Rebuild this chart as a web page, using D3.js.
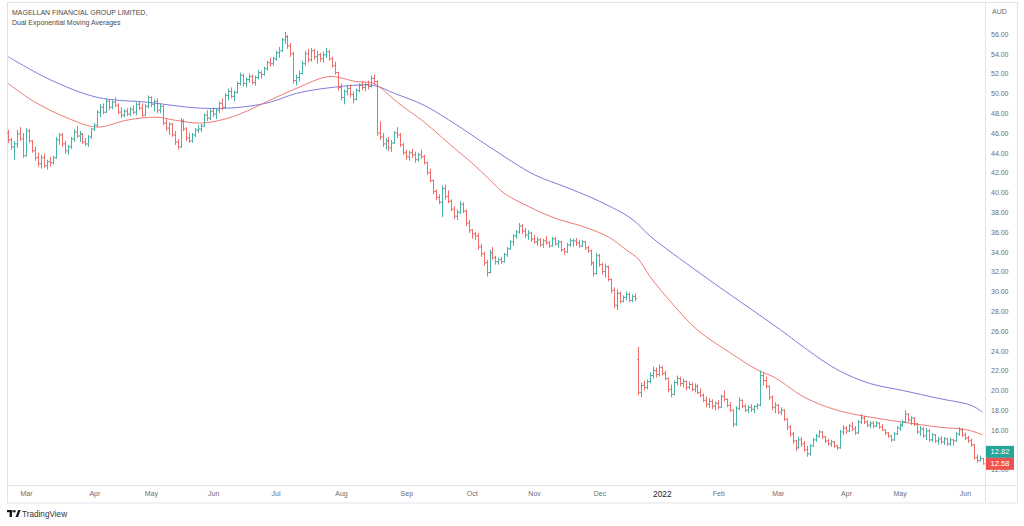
<!DOCTYPE html>
<html><head><meta charset="utf-8">
<script src="https://cdn.jsdelivr.net/npm/d3@7"></script>
<style>
body{margin:0;background:#fff}
svg{display:block}
text{font-family:"Liberation Sans",Arial,sans-serif}
</style>
</head><body>
<svg id="c" width="1024" height="526"></svg>
<script>
// ---------- data ----------
const title = "MAGELLAN FINANCIAL GROUP LIMITED,";
const subtitle = "Dual Exponential Moving Averages";
const currency = "AUD";
const startDate = "2021-02-19";
const holidays = ["2021-04-02","2021-04-05","2021-04-26","2021-06-14","2021-12-27","2021-12-28",
  "2022-01-03","2022-01-26","2022-04-15","2022-04-18","2022-04-25"];
const yTicks = [12,14,16,18,20,22,24,26,28,30,32,34,36,38,40,42,44,46,48,50,52,54,56];
const priceTags = [12.82, 12.58];

// daily bars [open, high, low, close]
const barsFeb21 = [[46.0,46.3,45.0,45.3],[45.3,45.5,44.3,44.6],[44.6,45.2,43.3,44.9],[44.9,46.3,44.5,45.9],[45.9,46.6,45.2,45.4],[45.4,46.0,43.5,43.7]];
const barsMar21 = [[43.7,46.5,43.6,46.2],[46.2,46.4,45.0,45.2],[45.2,45.3,44.0,44.2],[44.2,44.6,43.2,43.5],[43.5,44.0,42.6,42.9],[42.9,43.8,42.4,43.5],[43.5,43.9,42.5,42.7],[42.7,43.3,42.3,43.1],[43.1,43.6,42.6,43.0],[43.0,43.7,42.8,43.5],[43.5,45.6,43.4,45.3],[45.3,46.0,44.8,45.8],[45.8,46.0,44.6,44.9],[44.9,45.2,43.9,44.2],[44.2,44.8,43.8,44.6],[44.6,45.6,44.4,45.4],[45.4,46.4,45.1,46.1],[46.1,46.7,45.5,45.7],[45.7,46.2,45.1,45.9],[45.9,46.0,44.9,45.1],[45.1,45.5,44.7,44.9],[44.9,45.8,44.6,45.6],[45.6,46.5,45.4,46.4]];
const barsApr21 = [[46.4,47.0,46.2,46.8],[46.8,48.3,46.6,48.1],[48.1,48.9,47.6,48.6],[48.6,49.0,47.9,48.1],[48.1,49.5,48.0,49.2],[49.2,49.4,48.3,48.6],[48.6,49.3,48.4,49.1],[49.1,49.6,48.6,48.8],[48.8,49.0,47.9,48.1],[48.1,48.6,47.5,47.8],[47.8,48.4,47.6,48.2],[48.2,48.5,47.7,47.9],[47.9,48.6,47.7,48.4],[48.4,48.8,47.9,48.1],[48.1,49.1,47.8,48.9],[48.9,49.2,48.3,48.5],[48.5,49.0,47.6,47.8],[47.8,48.9,47.7,48.7],[48.7,49.8,48.5,49.6]];
const barsMay21 = [[49.6,49.7,48.6,48.9],[48.9,49.4,48.2,49.2],[49.2,49.5,48.0,48.3],[48.3,49.0,48.0,48.7],[48.7,48.8,46.8,47.0],[47.0,47.4,46.2,46.5],[46.5,47.1,45.8,46.9],[46.9,47.0,45.6,45.8],[45.8,46.2,44.8,45.1],[45.1,45.4,44.3,44.6],[44.6,47.5,44.5,47.2],[47.2,47.4,46.2,46.4],[46.4,46.6,45.2,45.5],[45.5,46.0,45.0,45.2],[45.2,46.0,45.0,45.8],[45.8,46.5,45.6,46.3],[46.3,46.8,46.0,46.4],[46.4,46.9,46.1,46.7],[46.7,48.0,46.6,47.8],[47.8,48.3,47.2,47.5],[47.5,48.4,47.3,48.2]];
const barsJun21 = [[48.2,48.6,47.6,47.9],[47.9,48.5,47.4,48.3],[48.3,49.2,48.0,49.0],[49.0,49.5,48.3,48.6],[48.6,50.0,48.5,49.8],[49.8,50.5,49.3,50.2],[50.2,50.6,49.5,49.7],[49.7,50.3,49.2,50.1],[50.1,51.2,50.0,51.0],[51.0,52.1,50.8,51.8],[51.8,52.0,50.7,51.0],[51.0,51.6,50.6,51.4],[51.4,52.0,51.1,51.7],[51.7,51.9,50.9,51.1],[51.1,51.8,50.8,51.6],[51.6,52.4,51.4,52.1],[52.1,52.3,51.5,51.9],[51.9,52.7,51.8,52.5],[52.5,53.3,52.3,53.1],[53.1,53.6,52.7,53.0],[53.0,53.7,52.8,53.5]];
const barsJul21 = [[53.5,54.3,53.3,54.1],[54.1,54.7,53.6,54.3],[54.3,55.6,54.2,55.4],[55.4,56.2,55.0,55.7],[55.7,55.9,54.5,54.8],[54.8,55.1,53.7,54.0],[54.0,54.2,51.0,51.3],[51.3,51.9,50.8,51.6],[51.6,52.3,51.2,52.0],[52.0,53.3,51.9,53.0],[53.0,54.3,52.8,54.0],[54.0,54.5,53.1,53.4],[53.4,54.6,53.2,54.3],[54.3,54.5,53.4,53.7],[53.7,54.3,53.0,53.9],[53.9,54.1,53.2,53.5],[53.5,54.2,53.1,53.9],[53.9,54.6,53.6,54.2],[54.2,54.4,53.3,53.5],[53.5,53.7,52.6,52.8],[52.8,53.2,51.9,52.1],[52.1,52.2,50.3,50.6]];
const barsAug21 = [[50.6,51.0,49.3,49.6],[49.6,50.4,48.9,50.2],[50.2,50.8,49.8,50.5],[50.5,50.9,49.6,49.9],[49.9,50.2,49.0,49.4],[49.4,50.5,49.3,50.3],[50.3,51.0,50.1,50.8],[50.8,51.2,50.3,50.6],[50.6,51.1,50.2,50.9],[50.9,51.3,50.4,50.7],[50.7,51.8,50.6,51.5],[51.5,51.9,50.9,51.2],[51.2,51.3,45.7,46.0],[46.0,47.2,45.3,45.6],[45.6,46.0,44.6,44.9],[44.9,45.5,44.3,45.2],[45.2,45.6,44.2,44.5],[44.5,45.3,44.1,45.0],[45.0,46.2,44.9,46.0],[46.0,46.6,45.5,45.8],[45.8,46.0,44.6,44.8],[44.8,45.0,43.8,44.0]];
const barsSep21 = [[44.0,44.3,43.3,43.6],[43.6,44.2,43.2,44.0],[44.0,44.4,43.5,43.8],[43.8,44.1,43.0,43.3],[43.3,44.0,43.1,43.8],[43.8,44.3,43.4,43.6],[43.6,43.8,42.8,43.0],[43.0,43.1,41.8,42.0],[42.0,42.4,41.0,41.2],[41.2,41.3,39.8,40.1],[40.1,40.3,39.2,39.5],[39.5,39.8,38.8,39.0],[39.0,40.7,37.5,40.4],[40.4,40.8,39.3,39.6],[39.6,40.2,38.9,39.1],[39.1,39.3,38.1,38.3],[38.3,38.6,37.3,37.6],[37.6,38.3,37.2,38.0],[38.0,39.1,37.8,38.8],[38.8,39.0,37.9,38.1],[38.1,38.3,36.6,36.9],[36.9,37.2,35.9,36.2]];
const barsOct21 = [[36.2,36.3,35.3,35.8],[35.8,36.0,35.2,35.6],[35.6,35.9,34.2,34.5],[34.5,34.8,33.5,33.8],[33.8,34.0,32.6,32.9],[32.9,33.2,31.5,31.9],[31.9,34.2,31.8,33.9],[33.9,34.5,33.2,33.4],[33.4,33.6,32.7,33.0],[33.0,33.4,32.7,33.2],[33.2,33.5,32.8,33.0],[33.0,33.9,32.9,33.7],[33.7,34.5,33.5,34.3],[34.3,35.2,34.2,35.0],[35.0,35.8,34.6,35.6],[35.6,36.2,35.3,36.0],[36.0,36.9,35.8,36.6],[36.6,36.8,35.8,36.1],[36.1,36.4,35.4,35.7],[35.7,36.2,35.2,35.9],[35.9,36.0,35.0,35.3]];
const barsNov21 = [[35.3,35.7,34.8,35.0],[35.0,35.5,34.6,35.2],[35.2,35.4,34.5,34.7],[34.7,35.3,34.4,35.1],[35.1,35.6,34.7,34.9],[34.9,35.1,34.4,34.6],[34.6,35.5,34.5,35.3],[35.3,35.5,34.6,34.8],[34.8,35.2,34.4,35.0],[35.0,35.1,34.0,34.2],[34.2,34.4,33.7,34.0],[34.0,34.9,33.9,34.7],[34.7,35.4,34.5,35.1],[35.1,35.3,34.5,35.1],[35.1,35.4,34.6,34.9],[34.9,35.2,34.4,34.6],[34.6,35.2,34.5,35.0],[35.0,35.1,34.2,34.4],[34.4,34.6,33.9,34.1],[34.1,34.2,32.6,32.9],[32.9,33.0,31.5,31.8]];
const barsDec21 = [[31.8,33.9,31.7,33.6],[33.6,33.8,32.5,32.7],[32.7,32.9,31.7,32.0],[32.0,32.8,31.4,32.5],[32.5,32.6,31.0,31.2],[31.2,31.3,29.8,30.1],[30.1,30.4,28.3,28.6],[28.6,30.2,28.1,29.8],[29.8,30.0,28.8,29.0],[29.0,29.6,28.9,29.4],[29.4,30.0,29.1,29.7],[29.7,29.9,28.9,29.1],[29.1,29.7,28.9,29.5],[29.5,29.8,29.0,29.3],[23.1,24.4,19.5,19.8],[19.8,20.8,19.3,20.5],[20.5,21.0,20.0,20.3],[20.3,21.1,20.1,20.9],[20.9,21.8,20.7,21.5],[21.5,22.4,21.2,22.0],[22.0,22.3,21.3,21.6]];
const barsJan22 = [[21.6,22.6,21.4,22.3],[22.3,22.5,21.5,21.7],[21.7,22.0,21.0,21.2],[21.2,21.3,19.8,20.1],[20.1,20.6,19.3,19.6],[19.6,21.0,19.5,20.8],[20.8,21.5,20.5,21.2],[21.2,21.4,20.4,20.7],[20.7,21.2,20.3,20.9],[20.9,21.0,20.0,20.3],[20.3,20.9,20.1,20.6],[20.6,20.8,19.9,20.1],[20.1,20.7,19.8,20.4],[20.4,20.6,19.6,19.8],[19.8,20.2,19.3,19.5],[19.5,19.7,18.8,19.0],[19.0,19.4,18.3,18.6],[18.6,19.2,18.2,18.9],[18.9,19.1,18.1,18.4]];
const barsFeb22 = [[18.4,18.9,18.0,18.7],[18.7,19.0,18.1,18.3],[18.3,19.6,18.2,19.4],[19.4,20.0,18.9,19.1],[19.1,19.2,18.3,18.5],[18.5,18.8,17.8,18.0],[18.0,18.1,16.3,16.6],[16.6,18.4,16.4,18.2],[18.2,19.3,18.0,19.0],[19.0,19.1,18.2,18.4],[18.4,18.6,17.8,18.0],[18.0,18.5,17.7,18.3],[18.3,18.6,17.8,18.1],[18.1,18.5,17.7,18.4],[18.4,18.7,18.1,18.5],[18.5,22.0,18.4,21.5],[21.5,21.8,20.5,21.0],[21.0,21.4,20.2,20.4],[20.4,20.5,19.0,19.3],[19.3,19.5,18.0,18.3],[18.3,18.8,17.7,18.5]];
const barsMar22 = [[18.5,18.6,17.6,17.8],[17.8,18.3,17.5,18.0],[18.0,18.1,16.9,17.1],[17.1,17.2,16.0,16.3],[16.3,16.5,15.3,15.6],[15.6,15.8,14.6,14.9],[14.9,15.0,13.9,14.2],[14.2,15.3,14.1,15.0],[15.0,15.3,14.3,14.6],[14.6,14.9,13.8,14.0],[14.0,14.4,13.3,13.6],[13.6,14.6,13.4,14.4],[14.4,15.2,14.3,15.0],[15.0,15.6,14.8,15.4],[15.4,16.0,15.2,15.8],[15.8,15.9,15.1,15.3],[15.3,15.4,14.7,14.9],[14.9,15.1,14.4,14.6],[14.6,15.0,14.3,14.8],[14.8,14.9,14.2,14.4],[14.4,14.5,14.0,14.2],[14.2,16.0,14.1,15.8],[15.8,16.5,15.5,16.2]];
const barsApr22 = [[16.2,16.4,15.6,15.9],[15.9,16.6,15.8,16.4],[16.4,16.8,15.9,16.1],[16.1,16.4,15.5,15.7],[15.7,17.0,15.6,16.8],[16.8,17.6,16.6,17.2],[17.2,17.4,16.6,16.8],[16.8,17.0,16.3,16.5],[16.5,16.9,16.2,16.7],[16.7,16.9,16.2,16.4],[16.4,16.9,16.3,16.7],[16.7,16.8,16.1,16.3],[16.3,16.6,15.9,16.0],[16.0,16.1,15.5,15.7],[15.7,15.8,15.2,15.4],[15.4,15.5,14.8,15.0],[15.0,15.8,14.9,15.6],[15.6,16.4,15.5,16.2]];
const barsMay22 = [[16.2,16.7,15.9,16.5],[16.5,17.0,16.3,16.8],[16.8,18.0,16.7,17.6],[17.6,17.7,16.8,17.0],[17.0,17.4,16.5,17.2],[17.2,17.3,16.4,16.6],[16.6,16.7,15.6,15.8],[15.8,16.4,15.4,16.1],[16.1,16.3,15.2,15.4],[15.4,16.2,15.0,15.9],[15.9,16.1,14.8,15.0],[15.0,15.7,14.8,15.5],[15.5,15.6,14.7,14.9],[14.9,15.3,14.5,15.1],[15.1,15.4,14.6,14.8],[14.8,15.3,14.5,15.1],[15.1,15.2,14.4,14.6],[14.6,15.2,14.4,15.0],[15.0,15.1,14.4,14.9],[14.9,15.8,14.8,15.6],[15.6,16.3,15.4,16.0]];
const barsJun22 = [[16.0,16.2,15.3,15.5],[15.5,15.7,15.0,15.2],[15.2,15.4,14.7,14.9],[14.9,15.1,14.3,14.5],[14.5,14.6,13.0,13.2],[13.2,13.5,12.7,12.9],[12.9,13.4,12.8,13.1],[13.1,13.2,12.5,12.58]];

// EMA lines: [bar index, value]
const emaFast = [[0,51.0],[8,49.3],[20,47.5],[30,46.6],[40,47.3],[50,47.6],[56,47.3],[65,47.0],[74,47.5],[81,48.3],[88,49.3],[97,50.5],[108,51.7],[117,51.2],[123,51.0],[131,49.1],[140,47.1],[150,44.5],[156,43.0],[162,41.3],[167,39.9],[175,38.6],[184,37.4],[194,36.5],[202,35.5],[208,34.2],[212,33.3],[216,31.5],[224,28.6],[232,26.1],[243,23.8],[252,22.1],[258,21.3],[268,19.3],[279,18.0],[290,17.3],[301,16.8],[313,16.3],[323,16.0],[328,15.5]];
const emaSlow = [[0,53.7],[14,51.4],[30,49.6],[47,49.1],[65,48.5],[78,48.6],[88,49.1],[97,50.0],[109,50.6],[123,50.8],[130,50.0],[140,48.8],[151,46.8],[162,44.6],[177,41.8],[188,40.5],[199,39.1],[210,37.3],[216,35.6],[233,31.8],[260,26.1],[269,24.1],[279,22.1],[290,20.7],[301,20.0],[313,19.2],[324,18.5],[328,17.8]];

// ---------- build ----------
const bars = [].concat(barsFeb21,barsMar21,barsApr21,barsMay21,barsJun21,barsJul21,barsAug21,barsSep21,
  barsOct21,barsNov21,barsDec21,barsJan22,barsFeb22,barsMar22,barsApr22,barsMay22,barsJun22);
const N = bars.length;

// trading dates
const hol = new Set(holidays);
const fmt = d3.timeFormat("%Y-%m-%d");
const dates = [];
let d = d3.timeParse("%Y-%m-%d")(startDate);
while (dates.length < N) {
  const wd = d.getDay();
  if (wd !== 0 && wd !== 6 && !hol.has(fmt(d))) dates.push(new Date(d));
  d = d3.timeDay.offset(d, 1);
}
const data = bars.map((b, i) => ({i, date: dates[i], o: b[0], h: b[1], l: b[2], c: b[3]}));

const svg = d3.select("#c");
const x = d3.scaleLinear().domain([0, N - 1]).range([8.2, 982.7]);
const y = d3.scaleLinear().domain([12, 56]).range([469.6, 34]);

const gridCol = "#e0e3eb";
// frame
svg.append("rect").attr("x", 7.5).attr("y", 2.5).attr("width", 1010).attr("height", 500.5)
  .attr("fill", "none").attr("stroke", gridCol);
svg.append("line").attr("x1", 985.5).attr("x2", 985.5).attr("y1", 2.5).attr("y2", 503)
  .attr("stroke", gridCol);
svg.append("line").attr("x1", 7.5).attr("x2", 1017.5).attr("y1", 485.5).attr("y2", 485.5)
  .attr("stroke", gridCol);

// EMA lines
const line = d3.line().x(p => x(p[0])).y(p => y(p[1])).curve(d3.curveCatmullRom.alpha(0.5));
svg.append("path").attr("d", line(emaSlow)).attr("fill", "none").attr("stroke", "#7d7ddb").attr("stroke-width", 1);
svg.append("path").attr("d", line(emaFast)).attr("fill", "none").attr("stroke", "#f07a76").attr("stroke-width", 1);

// OHLC bars
const up = "#26a69a", down = "#ef5350";
svg.append("g").attr("opacity", 0.85).selectAll("path").data(data).join("path")
  .attr("d", b => {
    const cx = Math.round(x(b.i)) + 0.5;
    return `M${cx - 1.5},${y(b.o)}H${cx}M${cx},${y(b.h)}V${y(b.l)}M${cx},${y(b.c)}H${cx + 1.5}`;
  })
  .attr("fill", "none")
  .attr("stroke", b => b.c >= b.o ? up : down)
  .attr("stroke-width", 1);

// price tags position
const tagCols = [up, down];
const redY = y(priceTags[1]);
const tagYs = [redY - 12, redY];

// right price axis (labels that sit fully under a tag are hidden, as on the original)
const yAxis = d3.axisRight(y).tickValues(yTicks).tickSize(0).tickPadding(6).tickFormat(d3.format(".2f"));
const ya = svg.append("g").attr("transform", "translate(985,0)").call(yAxis);
ya.select(".domain").remove();
ya.selectAll("text").attr("fill", "#6a6d78").attr("font-size", 7).attr("font-family", "Liberation Sans, Arial, sans-serif");
ya.selectAll(".tick").filter(v => Math.abs(y(v) - tagYs[0]) < 5).remove();

svg.append("text").attr("x", 992).attr("y", 13.5).text(currency)
  .attr("font-size", 7).attr("fill", "#6a6d78");

// bottom time axis
const monthStarts = data.filter((b, i) => i > 0 && b.date.getMonth() !== data[i - 1].date.getMonth()).map(b => b.i);
const xAxis = d3.axisBottom(x).tickValues(monthStarts).tickSize(0).tickPadding(6)
  .tickFormat(i => dates[i].getMonth() === 0 ? d3.timeFormat("%Y")(dates[i]) : d3.timeFormat("%b")(dates[i]));
const xa = svg.append("g").attr("transform", "translate(0,485)").call(xAxis);
xa.select(".domain").remove();
xa.selectAll("text").attr("fill", "#6a6d78").attr("font-size", 7).attr("font-family", "Liberation Sans, Arial, sans-serif")
  .filter(i => dates[i].getMonth() === 0).attr("fill", "#222").attr("font-size", 8.3);

// price tags
priceTags.forEach((v, k) => {
  svg.append("rect").attr("x", 986).attr("y", tagYs[k] - 6).attr("width", 28).attr("height", 12)
    .attr("fill", tagCols[k]);
  svg.append("text").attr("x", 1000).attr("y", tagYs[k] + 2.6).attr("text-anchor", "middle")
    .attr("font-size", 7.5).attr("fill", "#fff").text(v.toFixed(2));
});

// title
svg.append("text").attr("x", 12).attr("y", 14.5).text(title).attr("font-size", 7).attr("fill", "#4a4a4a");
svg.append("text").attr("x", 12).attr("y", 25).text(subtitle).attr("font-size", 7).attr("fill", "#4a4a4a");

// TradingView mark
const logo = svg.append("g").attr("fill", "#131722");
logo.append("rect").attr("x", 7).attr("y", 510).attr("width", 5.5).attr("height", 2.2);
logo.append("rect").attr("x", 9.6).attr("y", 510).attr("width", 2.4).attr("height", 7);
logo.append("circle").attr("cx", 14.4).attr("cy", 511.2).attr("r", 1.2);
logo.append("path").attr("d", "M15.6,517 L18.2,510 L20.6,510 L18,517 Z");
svg.append("text").attr("x", 22).attr("y", 517).text("TradingView").attr("font-size", 8.2).attr("fill", "#333");
</script>
</body></html>
